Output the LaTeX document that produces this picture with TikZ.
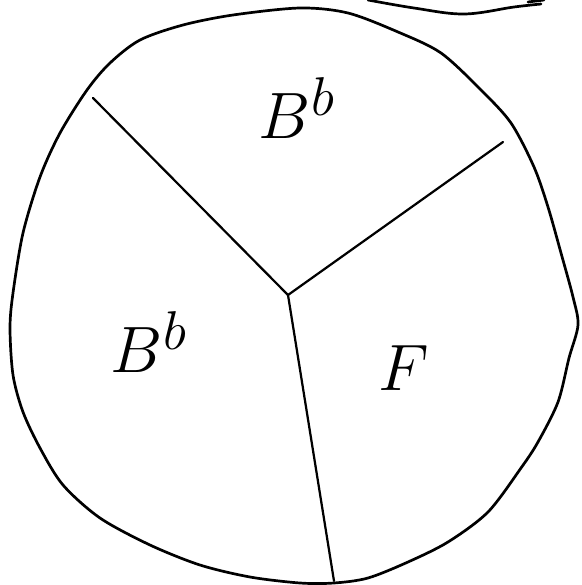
\documentclass[tikz,border=0pt]{standalone}
\usepackage{amsmath,amssymb}
\usetikzlibrary{positioning}
\tikzset{
  outline/.style={draw, line width=2.3pt, line join=round, line cap=round},
  wall/.style={draw, line width=1.9pt, line cap=round},
  region/.style={font=\Huge, scale=2.25, inner sep=0pt}
}
\begin{document}
\begin{tikzpicture}[x=0.03cm, y=-0.03cm]
\useasboundingbox (0,0) rectangle (581,585);
% boundary of the disc
\draw[outline] plot[smooth cycle, tension=0.5] coordinates {
  (300,8) (348,13) (398,32) (441,53) (481,90) (511,123) (534,167) (548,207)
  (561,253) (573,297) (578,325) (569,358) (558,402) (538,442) (521,468)
  (488,512) (448,542) (408,562) (368,578) (334,583) (300,583) (250,577)
  (200,565) (150,545) (100,518) (63,485) (40,448) (23,412) (13,375) (10,328)
  (13,293) (23,233) (40,177) (60,133) (87,90) (110,63) (140,40) (183,25) (233,15)};
% stroke at the top right
\draw[outline] plot[smooth, tension=0.6] coordinates {(368,0) (414,8) (464,14) (514,7) (541,4)};
\draw[outline] (528,2) -- (544,0);
% walls between the regions
\coordinate (ctr) at (288,295);
\coordinate (tl) at (93,98);
\coordinate (tr) at (503,142);
\coordinate (bot) at (334,581);
\draw[wall] (tl) -- (ctr);
\draw[wall] (tr) -- (ctr);
\draw[wall] (ctr) -- (bot);
% labels
\node[region] (top) at (297,108) {$B^b$};
\node[region] (left) at (149,342) {$B^b$};
\node[region] (right) at (404,368) {$F$};
\end{tikzpicture}
\end{document}
